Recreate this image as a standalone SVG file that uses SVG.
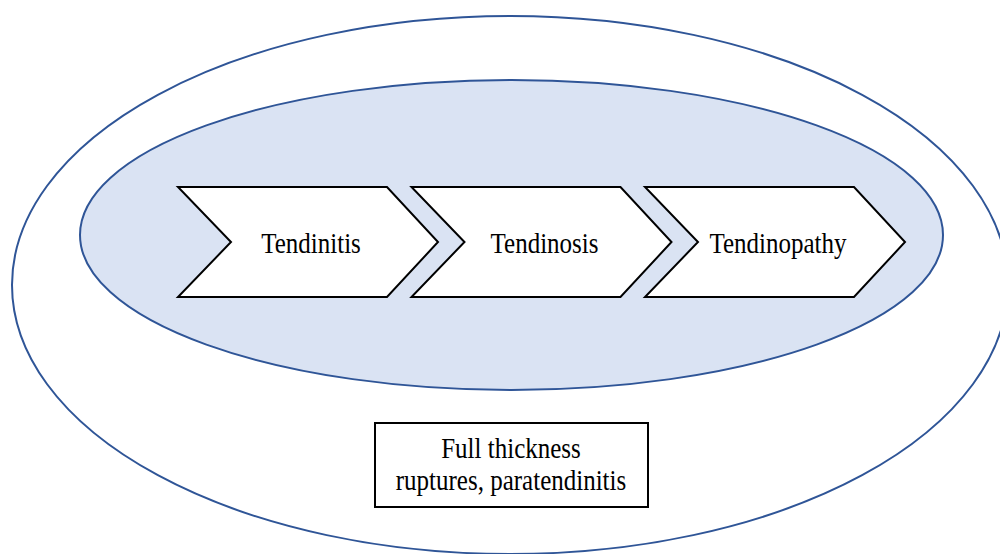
<svg xmlns="http://www.w3.org/2000/svg" width="1000" height="554" viewBox="0 0 1000 554">
<style>
.ell{stroke:#2F5597;stroke-width:2}
.chev{fill:#FFFFFF;stroke:#000000;stroke-width:2;stroke-linejoin:miter}
.lbl{font-family:"Liberation Serif","Times New Roman",serif;font-size:25px;fill:#000000;text-anchor:middle}
</style>
<rect x="0" y="0" width="1000" height="554" fill="#FFFFFF"/>
<g id="outer">
<ellipse class="ell" cx="510" cy="285" rx="498" ry="269" fill="#FFFFFF"/>
</g>
<g id="inner">
<ellipse class="ell" cx="511.5" cy="235" rx="431.5" ry="155" fill="#DAE3F3"/>
</g>
<g id="tendinitis">
<polygon class="chev" points="178,187 387,187 438,242 387,297 178,297 231,242"/>
<text class="lbl" transform="translate(311,252.7) scale(1,1.2)">Tendinitis</text>
</g>
<g id="tendinosis">
<polygon class="chev" points="411.5,187 620.5,187 671.5,242 620.5,297 411.5,297 464.5,242"/>
<text class="lbl" transform="translate(544.5,252.7) scale(1,1.2)">Tendinosis</text>
</g>
<g id="tendinopathy">
<polygon class="chev" points="645,187 854,187 905,242 854,297 645,297 698,242"/>
<text class="lbl" transform="translate(778,252.7) scale(1,1.2)">Tendinopathy</text>
</g>
<g id="box">
<rect x="375" y="423" width="273" height="84" fill="#FFFFFF" stroke="#000000" stroke-width="2"/>
<text class="lbl" transform="translate(511,458.3) scale(1,1.2)">Full thickness</text>
<text class="lbl" transform="translate(511,490.3) scale(1,1.2)">ruptures, paratendinitis</text>
</g>
<g id="connectors"></g>
</svg>
